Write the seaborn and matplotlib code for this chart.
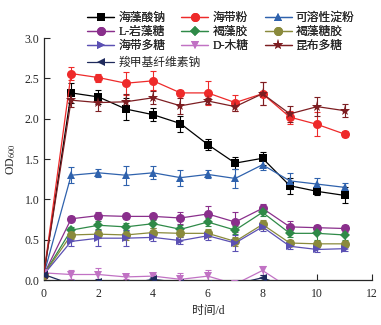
import numpy as np
import pandas as pd
import matplotlib
matplotlib.use("Agg")
import matplotlib.pyplot as plt
import seaborn as sns
from matplotlib.lines import Line2D

sns.set_style("ticks")
plt.rcParams['font.family'] = ['Liberation Serif', 'Noto Sans CJK SC']
plt.rcParams['mathtext.fontset'] = 'stix'

days = [0, 1, 2, 3, 4, 5, 6, 7, 8, 9, 10, 11]

names = ["海藻酸钠", "海带粉", "可溶性淀粉", "L-岩藻糖", "褐藻胶", "褐藻糖胶",
         "海带多糖", "D-木糖", "昆布多糖", "羧甲基纤维素钠"]

alginate = [0.07, 2.32, 2.27, 2.12, 2.05, 1.94, 1.68, 1.45, 1.51, 1.17, 1.10, 1.05]
kelp_powder = [0.07, 2.56, 2.51, 2.44, 2.47, 2.32, 2.32, 2.20, 2.31, 2.02, 1.93, 1.81]
starch = [0.07, 1.30, 1.33, 1.30, 1.33, 1.27, 1.31, 1.26, 1.43, 1.23, 1.19, 1.15]
fucose = [0.07, 0.76, 0.80, 0.79, 0.79, 0.77, 0.82, 0.72, 0.89, 0.66, 0.65, 0.64]
algin = [0.07, 0.62, 0.68, 0.66, 0.70, 0.63, 0.72, 0.62, 0.84, 0.58, 0.58, 0.56]
fucoidan = [0.07, 0.56, 0.57, 0.56, 0.59, 0.58, 0.58, 0.48, 0.69, 0.46, 0.45, 0.45]
kelp_poly = [0.07, 0.48, 0.52, 0.52, 0.53, 0.49, 0.55, 0.46, 0.66, 0.42, 0.38, 0.39]
xylose = [0.09, 0.07, 0.07, 0.04, 0.05, 0.01, 0.05, -0.05, 0.12, -0.10, -0.10, -0.10]
laminarin = [0.07, 2.23, 2.20, 2.21, 2.26, 2.16, 2.22, 2.15, 2.31, 2.06, 2.15, 2.10]
cmc = [0.07, -0.05, -0.02, -0.05, 0.01, -0.03, -0.05, -0.05, 0.03, -0.10, -0.10, -0.10]

err_alginate = [0.02, 0.12, 0.09, 0.14, 0.08, 0.10, 0.07, 0.07, 0.08, 0.10, 0.05, 0.10]
err_kelp_powder = [0.02, 0.08, 0.05, 0.14, 0.12, 0.04, 0.15, 0.10, 0.14, 0.08, 0.15, 0.04]
err_starch = [0.02, 0.10, 0.05, 0.12, 0.08, 0.10, 0.05, 0.12, 0.07, 0.10, 0.08, 0.05]
err_fucose = [0.02, 0.03, 0.04, 0.03, 0.03, 0.08, 0.10, 0.12, 0.05, 0.07, 0.03, 0.04]
err_algin = [0.02, 0.04, 0.05, 0.05, 0.05, 0.05, 0.05, 0.05, 0.04, 0.04, 0.08, 0.06]
err_fucoidan = [0.02, 0.05, 0.05, 0.06, 0.05, 0.05, 0.05, 0.06, 0.06, 0.04, 0.04, 0.04]
err_kelp_poly = [0.02, 0.06, 0.10, 0.10, 0.05, 0.04, 0.05, 0.10, 0.05, 0.03, 0.03, 0.03]
err_xylose = [0.02, 0.06, 0.08, 0.03, 0.03, 0.08, 0.07, 0.05, 0.05, 0.05, 0.05, 0.05]
err_laminarin = [0.02, 0.08, 0.10, 0.10, 0.08, 0.10, 0.04, 0.05, 0.14, 0.10, 0.12, 0.08]
err_cmc = [0.02, 0.03, 0.03, 0.03, 0.03, 0.03, 0.03, 0.03, 0.03, 0.03, 0.03, 0.03]

values = [alginate, kelp_powder, starch, fucose, algin, fucoidan, kelp_poly, xylose, laminarin, cmc]
errors = [err_alginate, err_kelp_powder, err_starch, err_fucose, err_algin, err_fucoidan,
          err_kelp_poly, err_xylose, err_laminarin, err_cmc]
colors = ["#000000", "#ee2a2a", "#2f62ad", "#8a2f8c", "#2f8a48", "#8a8a3c",
          "#5b50b3", "#c172c4", "#7d1e22", "#1f2a5c"]
markers = ["s", "o", "^", "o", "D", "o", ">", "v", "*", "<"]
msizes = [5.5, 6.5, 6, 6.5, 5, 6.5, 6, 6, 8, 6]

fig = plt.figure(figsize=(3.81, 3.25), dpi=100)
ax = fig.add_axes([0.115, 0.138, 0.861, 0.745])

handles = []
for name, v, e, c, m, ms in zip(names, values, errors, colors, markers, msizes):
    df = pd.DataFrame({"day": days, "od": v})
    sns.lineplot(data=df, x="day", y="od", ax=ax, color=c, marker=m, markersize=ms,
                 markeredgewidth=0, linewidth=0.9, legend=False, zorder=3)
    ax.errorbar(days, v, yerr=e, fmt="none", ecolor=c, elinewidth=0.8,
                capsize=2.2, capthick=0.8, zorder=2)
    handles.append(Line2D([], [], color=c, marker=m, markersize=ms,
                          markeredgewidth=0, linewidth=0.9, label=name))

ax.set_xlim(0, 12)
ax.set_ylim(0, 3.0)
ax.set_xticks([0, 2, 4, 6, 8, 10, 12])
ax.set_yticks([0.0, 0.5, 1.0, 1.5, 2.0, 2.5, 3.0])
ax.set_yticklabels(["0.0", "0.5", "1.0", "1.5", "2.0", "2.5", "3.0"])
ax.tick_params(direction="in", length=4, width=0.8, labelsize=8.5, pad=3)
ax.tick_params(axis="x", pad=6)
for s in ["top", "right"]:
    ax.spines[s].set_visible(False)
for s in ["left", "bottom"]:
    ax.spines[s].set_linewidth(0.9)
ax.set_xlabel("时间/d", fontsize=8.5, labelpad=3)
ax.set_ylabel(r"OD$_{600}$", fontsize=8.5, labelpad=5)

# row-major order for a 3-column legend
order = [0, 3, 6, 1, 4, 7, 2, 5, 8]
leg1 = fig.legend(handles=[handles[i] for i in order], loc="upper left",
                  bbox_to_anchor=(0.21, 0.985),
                  ncol=3, frameon=False, fontsize=8.5, handlelength=2.3,
                  handletextpad=0.35, columnspacing=1.35, labelspacing=0.18,
                  borderpad=0.1)
leg2 = fig.legend(handles=handles[9:], loc="upper left", bbox_to_anchor=(0.21, 0.985 - 0.138),
                  ncol=1, frameon=False, fontsize=8.5, handlelength=2.3,
                  handletextpad=0.35, borderpad=0.1)
fig.add_artist(leg1)

fig.savefig("out.png", dpi=100)
